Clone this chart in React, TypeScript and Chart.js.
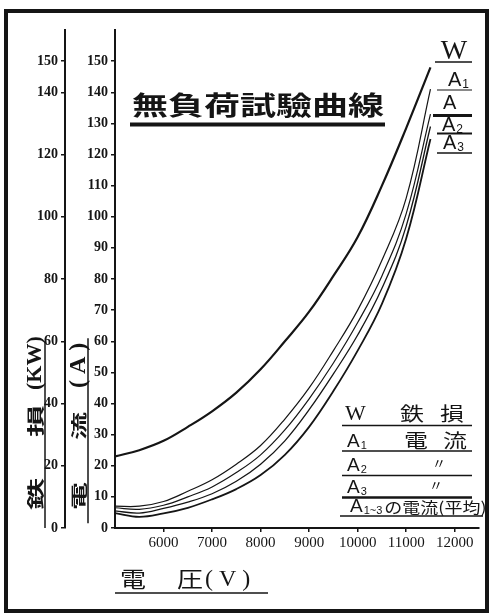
import React, { useEffect, useRef } from 'react';
import { Chart, registerables } from 'chart.js';

Chart.register(...registerables);

// ---- data ----
const voltages = [5000, 5500, 6000, 6500, 7000, 7500, 8000, 8500, 9000, 9500, 10000, 10500, 11000, 11500];
const ironLossW = [23, 25, 28, 32.5, 37.5, 43.5, 51, 60, 69.5, 81, 93.5, 110, 128.5, 148];
const currentA1 = [7, 7, 8.5, 11.8, 15.5, 20.5, 26.5, 35, 45, 57, 70, 86, 106, 141];
const currentAvg = [6.5, 6, 7.3, 10, 13.2, 17.8, 23.5, 31.5, 41.5, 53, 66, 81, 101, 133];
const currentA2 = [5.5, 4.8, 6.3, 8.3, 11, 15, 20.5, 28, 38, 49.5, 62, 77, 97, 129];
const currentA3 = [4.8, 3.6, 4.7, 6.5, 9.2, 12.5, 17, 23.5, 32.5, 44, 57, 72, 93, 125];

const voltageTicks = [6000, 7000, 8000, 9000, 10000, 11000, 12000];
const currentTicks = [0, 10, 20, 30, 40, 50, 60, 70, 80, 90, 100, 110, 120, 130, 140, 150];
const ironLossTicks = [0, 20, 40, 60, 80, 100, 120, 140, 150];

const chartTitle = '無負荷試驗曲線';

const INK = '#151515';
const SERIF = '"Liberation Serif", "DejaVu Serif", serif';
const SANS = '"Liberation Sans", "DejaVu Sans", sans-serif';
const CJK = '"Noto Sans CJK JP", "Noto Sans CJK SC", sans-serif';

type Ctx = CanvasRenderingContext2D;

function hline(ctx: Ctx, x1: number, x2: number, y: number, w: number) {
  ctx.beginPath();
  ctx.lineWidth = w;
  ctx.moveTo(x1, y);
  ctx.lineTo(x2, y);
  ctx.stroke();
}
function vline(ctx: Ctx, x: number, y1: number, y2: number, w: number) {
  ctx.beginPath();
  ctx.lineWidth = w;
  ctx.moveTo(x, y1);
  ctx.lineTo(x, y2);
  ctx.stroke();
}
function squash(ctx: Ctx, text: string, x: number, y: number, font: string, sy: number, align: CanvasTextAlign = 'left') {
  ctx.save();
  ctx.translate(x, y);
  ctx.scale(1, sy);
  ctx.font = font;
  ctx.textAlign = align;
  ctx.textBaseline = 'bottom';
  ctx.fillText(text, 0, 0);
  ctx.restore();
}
// rotated text reading bottom -> top, starting at (cx, yStart)
function vtext(ctx: Ctx, text: string, cx: number, yStart: number, font: string, sAcross: number) {
  ctx.save();
  ctx.translate(cx, yStart);
  ctx.rotate(-Math.PI / 2);
  ctx.scale(1, sAcross);
  ctx.font = font;
  ctx.textAlign = 'left';
  ctx.textBaseline = 'middle';
  ctx.fillText(text, 0, 0);
  ctx.restore();
}
function subLabel(ctx: Ctx, main: string, sub: string, x: number, y: number, size: number, family = SANS) {
  ctx.textAlign = 'left';
  ctx.textBaseline = 'alphabetic';
  ctx.font = `${size}px ${family}`;
  ctx.fillText(main, x, y);
  const w = ctx.measureText(main).width;
  if (sub) {
    ctx.font = `${Math.round(size * 0.6)}px ${family}`;
    ctx.fillText(sub, x + w + 1, y + size * 0.12);
  }
  return x + w + (sub ? ctx.measureText(sub).width + 1 : 0);
}

const paperPlugin = {
  id: 'paper',
  beforeDraw(chart: any) {
    const { ctx, width, height } = chart;
    ctx.save();
    ctx.fillStyle = '#ffffff';
    ctx.fillRect(0, 0, width, height);
    ctx.restore();
  },
};

const decorPlugin = {
  id: 'decor',
  afterDraw(chart: any) {
    const { ctx, chartArea: ca, scales } = chart;
    const y = scales.y;
    const y2 = scales.y2;
    ctx.save();
    ctx.fillStyle = INK;
    ctx.strokeStyle = INK;

    // outer frame
    ctx.lineWidth = 4;
    ctx.strokeRect(6, 11, 481, 600);

    // title
    squash(ctx, chartTitle, ca.left + 17, 118, `bold 36px ${CJK}`, 0.72);
    hline(ctx, ca.left + 15, ca.left + 270, 124.5, 4);

    // vertical axis titles
    const yBot = y.getPixelForValue(0);
    vtext(ctx, '鉄', y2.left + 25, yBot - 18, `bold 32px ${CJK}`, 0.55);
    vtext(ctx, '損', y2.left + 25, yBot - 91, `bold 32px ${CJK}`, 0.55);
    vtext(ctx, '(KW)', y2.left + 25, yBot - 138, `bold 22px ${SERIF}`, 1);
    vtext(ctx, '電', y.left + 14, yBot - 18, `bold 28px ${CJK}`, 0.55);
    vtext(ctx, '流', y.left + 14, yBot - 88, `bold 28px ${CJK}`, 0.55);
    vtext(ctx, '( A )', y.left + 14, yBot - 140, `bold 24px ${SERIF}`, 1);

    // bracket rules beside the axis titles
    vline(ctx, y2.left + 35, y2.getPixelForValue(60), y2.getPixelForValue(0), 1.5);
    vline(ctx, y.left + 23, y.getPixelForValue(61), y.getPixelForValue(1.5), 1.5);

    // x axis title
    squash(ctx, '電', ca.left + 5, 590, `26px ${CJK}`, 0.82);
    squash(ctx, '圧', ca.left + 62, 590, `26px ${CJK}`, 0.82);
    ctx.font = `24px ${SERIF}`;
    ctx.textAlign = 'left';
    ctx.textBaseline = 'alphabetic';
    ctx.fillText('( V )', ca.left + 90, 586);
    hline(ctx, ca.left, ca.left + 153, 593, 1.5);

    // curve-end labels (top right)
    ctx.font = `28px ${SERIF}`;
    ctx.textAlign = 'center';
    ctx.textBaseline = 'alphabetic';
    ctx.fillText('W', 454, 59);
    hline(ctx, 435, 472, 62, 1.5);
    subLabel(ctx, 'A', '1', 448, 86, 20);
    hline(ctx, 437, 472, 90, 1.2);
    subLabel(ctx, 'A', '', 443, 109, 20);
    hline(ctx, 433, 472, 115.5, 3);
    subLabel(ctx, 'A', '2', 442, 131, 20);
    hline(ctx, 437, 472, 133.5, 2);
    subLabel(ctx, 'A', '3', 443, 149, 20);
    hline(ctx, 437, 472, 153, 1.5);

    // legend table (bottom right)
    subLabel(ctx, 'W', '', 345, 420, 22, SERIF);
    squash(ctx, '鉄', 400, 423, `24px ${CJK}`, 0.8);
    squash(ctx, '損', 440, 423, `24px ${CJK}`, 0.8);
    hline(ctx, 342, 472, 425.5, 1.5);

    subLabel(ctx, 'A', '1', 347, 447, 19);
    squash(ctx, '電', 404, 450, `24px ${CJK}`, 0.8);
    squash(ctx, '流', 443, 450, `24px ${CJK}`, 0.8);
    hline(ctx, 342, 472, 451, 1.5);

    subLabel(ctx, 'A', '2', 347, 471, 19);
    squash(ctx, '〃', 432, 470, `14px ${CJK}`, 1);
    hline(ctx, 342, 472, 475.5, 1.5);

    subLabel(ctx, 'A', '3', 347, 493, 19);
    squash(ctx, '〃', 429, 492, `14px ${CJK}`, 1);
    hline(ctx, 342, 472, 497.5, 2.5);

    const nx = subLabel(ctx, 'A', '1~3', 350, 512, 19);
    squash(ctx, 'の電流(平均)', nx + 2, 515, `18px ${CJK}`, 0.85);
    hline(ctx, 340, 483, 516, 1.5);

    ctx.restore();
  },
};

function series(values: number[]) {
  return voltages.map((v, i) => ({ x: v, y: values[i] }));
}

export default function App() {
  const ref = useRef<HTMLCanvasElement | null>(null);

  useEffect(() => {
    document.body.style.margin = '0';
    const canvas = ref.current;
    if (!canvas) return;

    const tickFont = { family: SERIF, size: 14, weight: 'bold' as const };
    const axisGrid = { drawOnChartArea: false, drawTicks: true, tickLength: 4, color: INK, lineWidth: 1.5 };
    const axisBorder = { display: true, color: INK, width: 2 };

    const chart = new Chart(canvas, {
      type: 'line',
      data: {
        datasets: [
          { label: 'W 鉄損', data: series(ironLossW), yAxisID: 'y2', borderColor: INK, borderWidth: 2.2 },
          { label: 'A1 電流', data: series(currentA1), yAxisID: 'y', borderColor: INK, borderWidth: 1.2 },
          { label: 'A 電流(平均)', data: series(currentAvg), yAxisID: 'y', borderColor: INK, borderWidth: 1.2 },
          { label: 'A2 電流', data: series(currentA2), yAxisID: 'y', borderColor: INK, borderWidth: 1.3 },
          { label: 'A3 電流', data: series(currentA3), yAxisID: 'y', borderColor: INK, borderWidth: 1.8 },
        ],
      },
      options: {
        responsive: false,
        animation: false,
        devicePixelRatio: 1,
        layout: { padding: { left: 10, top: 30, right: 13, bottom: 0 } },
        elements: {
          point: { radius: 0 },
          line: { tension: 0.4, fill: false },
        },
        plugins: {
          legend: { display: false },
          title: { display: false },
          tooltip: { enabled: false },
        },
        scales: {
          x: {
            type: 'linear',
            min: 5000,
            max: 12500,
            afterBuildTicks: (s: any) => {
              s.ticks = voltageTicks.map((v) => ({ value: v }));
            },
            afterFit: (s: any) => {
              s.height = 87;
            },
            grid: axisGrid,
            border: axisBorder,
            ticks: {
              color: INK,
              font: { family: SERIF, size: 15 },
              padding: 2,
              maxRotation: 0,
              autoSkip: false,
              callback: (v: any) => String(v),
            },
          },
          y: {
            type: 'linear',
            position: 'left',
            weight: 0,
            min: 0,
            max: 160,
            afterBuildTicks: (s: any) => {
              s.ticks = currentTicks.map((v) => ({ value: v }));
            },
            afterFit: (s: any) => {
              s.width = 50;
            },
            grid: axisGrid,
            border: axisBorder,
            ticks: { color: INK, font: tickFont, padding: 3, autoSkip: false, callback: (v: any) => String(v) },
          },
          y2: {
            type: 'linear',
            position: 'left',
            weight: 1,
            min: 0,
            max: 160,
            afterBuildTicks: (s: any) => {
              s.ticks = ironLossTicks.map((v) => ({ value: v }));
            },
            afterFit: (s: any) => {
              s.width = 55;
            },
            grid: axisGrid,
            border: axisBorder,
            ticks: { color: INK, font: tickFont, padding: 3, autoSkip: false, callback: (v: any) => String(v) },
          },
        },
      } as any,
      plugins: [paperPlugin, decorPlugin],
    });

    return () => chart.destroy();
  }, []);

  return (
    <div style={{ width: 492, height: 615 }}>
      <canvas ref={ref} width={492} height={615} style={{ display: 'block' }} />
    </div>
  );
}
